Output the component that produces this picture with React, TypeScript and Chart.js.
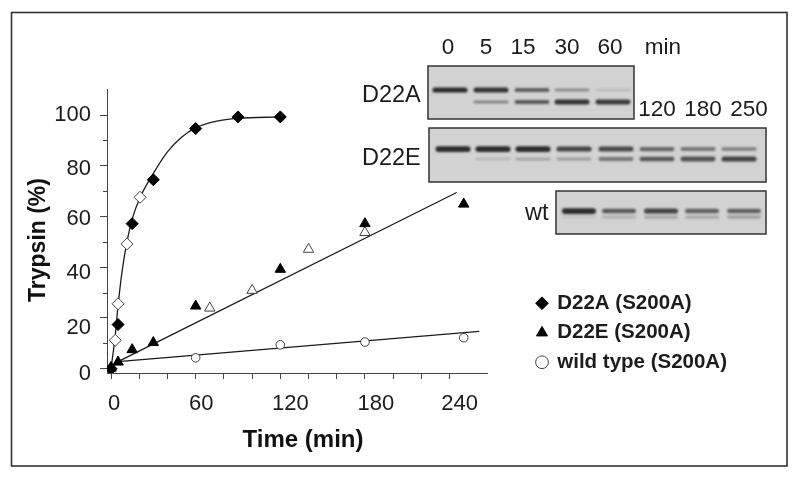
import React, { useEffect, useRef } from "react";
import { Chart, registerables } from "chart.js";

Chart.register(...registerables);

// ---- data ----
const xTickValues = [0, 20, 40, 60, 80, 100, 120, 140, 160, 180, 200, 220, 240];
const yTickValues = [0, 10, 20, 30, 40, 50, 60, 70, 80, 90, 100];

const d22aFilledX = [0, 5, 15, 30, 60, 90, 120];
const d22aFilledY = [0, 17.4, 57.2, 74.5, 94.7, 99.3, 99.3];
const d22aOpenX = [3, 5, 11.3, 20.6];
const d22aOpenY = [11.2, 25.6, 49.2, 67.6];
const d22aCurveX = [0, 3, 5, 8, 11.3, 15, 20.6, 30, 40, 50, 60, 75, 90, 120];
const d22aCurveY = [0, 13, 25, 39, 50, 59, 67.5, 77, 85.5, 91.3, 95, 97.6, 98.7, 99.3];

const d22eFilledX = [0, 5, 15, 30, 60, 120, 180, 250];
const d22eFilledY = [0.5, 2.6, 7.5, 10.3, 24.7, 39.2, 57.2, 64.9];
const d22eOpenX = [0, 70, 100, 140, 180];
const d22eOpenY = [0, 23.9, 30.9, 47.1, 53.7];
const d22eLineX = [0, 5, 245];
const d22eLineY = [0.5, 2.8, 69.5];

const wtX = [0, 60, 120, 180, 250];
const wtY = [0, 4.3, 9.4, 10.5, 12.2];
const wtLineX = [0, 5, 261];
const wtLineY = [0.5, 2.8, 14.7];

const legendLabels = ["D22A (S200A)", "D22E (S200A)", "wild type (S200A)"];

// gel annotations
const d22aLaneLabels = ["0", "5", "15", "30", "60", "min"];
const d22eLaneLabels = ["120", "180", "250"];
const gelNames = ["D22A", "D22E", "wt"];
// band darkness per lane (upper band, lower band)
const d22aUpper = [1, 0.95, 0.65, 0.35, 0.08];
const d22aLower = [0, 0.4, 0.7, 0.95, 0.9];
const d22eUpper = [1, 1, 1, 0.85, 0.8, 0.6, 0.5, 0.45];
const d22eLower = [0, 0.08, 0.2, 0.25, 0.5, 0.7, 0.75, 0.85];
const wtUpper = [1, 0.7, 0.85, 0.65, 0.65];
const wtLower = [0.03, 0.12, 0.2, 0.2, 0.25];

// ---- layout ----
const INK = "#1c1c1c";
const FONT = "'Liberation Sans', Arial, sans-serif";
const AREA = { left: 107, right: 487, top: 89, bottom: 373 };
const xLabelShift: Record<string, number> = { "0": 3, "60": 5.5, "120": 10, "180": 11, "240": 10 };
const yLabelShift: Record<string, number> = { "100": 0, "80": 2.7, "60": 2.3, "40": 6, "20": 10, "0": 5 };

const toPoints = (xs: number[], ys: number[]) => xs.map((x, i) => ({ x, y: ys[i] }));

function drawGel(
  ctx: CanvasRenderingContext2D,
  box: { x: number; y: number; w: number; h: number },
  lanes: number[],
  laneW: number,
  upperY: number,
  lowerY: number,
  upper: number[],
  lower: number[],
  thick: number
) {
  ctx.save();
  ctx.fillStyle = "#d2d2d2";
  ctx.fillRect(box.x, box.y, box.w, box.h);
  ctx.beginPath();
  ctx.rect(box.x, box.y, box.w, box.h);
  ctx.clip();
  ctx.filter = "blur(1px)";
  lanes.forEach((cx, i) => {
    [
      [upperY, upper[i]],
      [lowerY, lower[i]],
    ].forEach(([y, dark]) => {
      if (dark <= 0) return;
      const h = thick * (0.4 + dark * 0.75);
      ctx.fillStyle = `rgba(35,35,35,${Math.min(1, 0.1 + dark * 0.85)})`;
      ctx.beginPath();
      ctx.roundRect(cx - laneW / 2, y - h / 2, laneW, h, h / 2);
      ctx.fill();
    });
  });
  ctx.restore();
  ctx.strokeStyle = "#333333";
  ctx.lineWidth = 1.5;
  ctx.strokeRect(box.x, box.y, box.w, box.h);
}

const figurePlugin = {
  id: "figure",
  afterLayout(chart: any) {
    // axis titles sit a little off the centre of the axis
    const shiftTitle = (scale: any, side: "bottom" | "right", by: number) => {
      const orig = scale.drawTitle;
      if (scale.__wrapped) return;
      scale.__wrapped = true;
      scale.drawTitle = function () {
        this[side] += by;
        orig.call(this);
        this[side] -= by;
      };
    };
    shiftTitle(chart.scales.y, "bottom", 18);
    shiftTitle(chart.scales.x, "right", 12);
    const lg = chart.legend;
    lg.left = 528;
    lg.top = 284;
    lg.right = 800;
    lg.bottom = 480;
    lg.width = 272;
    lg.height = 196;
  },
  beforeDraw(chart: any) {
    const ctx: CanvasRenderingContext2D = chart.ctx;
    ctx.save();
    ctx.fillStyle = "#ffffff";
    ctx.fillRect(0, 0, 800, 480);
    ctx.strokeStyle = "#333333";
    ctx.lineWidth = 1.6;
    ctx.strokeRect(11.5, 12.5, 775.5, 453.5);
    ctx.restore();
    const nudge = (scale: any, shift: Record<string, number>, axis: number) => {
      scale.getLabelItems(chart.chartArea).forEach((it: any) => {
        const d = shift[String(it.label)];
        if (d && !it.__moved) {
          it.options.translation[axis] += d;
          it.__moved = true;
        }
      });
    };
    nudge(chart.scales.x, xLabelShift, 0);
    nudge(chart.scales.y, yLabelShift, 1);
  },
  afterDraw(chart: any) {
    const ctx: CanvasRenderingContext2D = chart.ctx;
    // minor ticks on the y axis
    const y = chart.scales.y;
    ctx.save();
    ctx.strokeStyle = "#444444";
    ctx.lineWidth = 1;
    yTickValues
      .filter((v) => v % 20 !== 0)
      .forEach((v) => {
        const py = Math.round(y.getPixelForValue(v)) + 0.5;
        ctx.beginPath();
        ctx.moveTo(AREA.left - 4, py);
        ctx.lineTo(AREA.left, py);
        ctx.stroke();
      });

    drawGel(ctx, { x: 428, y: 66, w: 206, h: 53 }, [450, 491, 532, 572, 613], 35, 90, 102, d22aUpper, d22aLower, 4.5);
    drawGel(ctx, { x: 429, y: 128, w: 337, h: 54 }, [453, 493, 533, 574, 616, 657, 698, 739], 35, 149, 159, d22eUpper, d22eLower, 5);
    drawGel(ctx, { x: 556, y: 191, w: 210, h: 43 }, [579, 619, 661, 702, 744], 34, 211, 217, wtUpper, wtLower, 5);

    ctx.fillStyle = INK;
    ctx.textBaseline = "middle";
    ctx.textAlign = "center";
    ctx.font = `22.5px ${FONT}`;
    [448, 486, 523, 567, 610, 663].forEach((px, i) => ctx.fillText(d22aLaneLabels[i], px, 48));
    [657, 703, 749].forEach((px, i) => ctx.fillText(d22eLaneLabels[i], px, 110));
    ctx.font = `23.5px ${FONT}`;
    ctx.textAlign = "left";
    ctx.fillText(gelNames[0], 362, 96);
    ctx.fillText(gelNames[1], 362, 159);
    ctx.fillText(gelNames[2], 525, 214);
    ctx.restore();
  },
};

export default function App() {
  const ref = useRef<HTMLCanvasElement>(null);

  useEffect(() => {
    document.body.style.margin = "0";
    const line = (xs: number[], ys: number[], extra = {}) => ({
      type: "line" as const,
      data: toPoints(xs, ys),
      borderColor: INK,
      borderWidth: 1.3,
      pointRadius: 0,
      fill: false,
      order: 5,
      ...extra,
    });
    const marks = (
      label: string,
      xs: number[],
      ys: number[],
      pointStyle: string,
      radius: number,
      filled: boolean
    ) => ({
      type: "line" as const,
      label,
      data: toPoints(xs, ys),
      showLine: false,
      pointStyle,
      pointRadius: radius,
      pointBorderWidth: 1,
      pointBorderColor: filled ? "#000000" : "#444444",
      pointBackgroundColor: filled ? "#000000" : "#ffffff",
      borderColor: filled ? "#000000" : "#444444",
      backgroundColor: filled ? "#000000" : "#ffffff",
      order: filled ? 1 : 2,
    });

    const chart = new Chart(ref.current as HTMLCanvasElement, {
      type: "line",
      data: {
        datasets: [
          line(d22aCurveX, d22aCurveY, { cubicInterpolationMode: "monotone" }),
          line(d22eLineX, d22eLineY),
          line(wtLineX, wtLineY),
          marks(legendLabels[0], d22aFilledX, d22aFilledY, "rectRot", 6, true),
          marks("", d22aOpenX, d22aOpenY, "rectRot", 6, false),
          marks(legendLabels[1], d22eFilledX, d22eFilledY, "triangle", 6, true),
          marks("", d22eOpenX, d22eOpenY, "triangle", 6, false),
          marks(legendLabels[2], wtX, wtY, "circle", 4.3, false),
        ],
      },
      options: {
        responsive: false,
        animation: false,
        layout: { padding: { left: 0, top: AREA.top, right: 800 - AREA.right, bottom: 0 } },
        plugins: {
          tooltip: { enabled: false },
          legend: {
            display: true,
            position: "chartArea",
            align: "start",
            labels: {
              usePointStyle: true,
              boxWidth: 10,
              boxHeight: 9,
              padding: 9,
              color: INK,
              font: { family: FONT, size: 20.5, weight: "bold" },
              filter: (item: any) => legendLabels.includes(item.text),
            },
          },
        },
        scales: {
          x: {
            type: "linear",
            min: -2.84,
            max: 266.5,
            afterBuildTicks: (s: any) => {
              s.ticks = xTickValues.map((value) => ({ value }));
            },
            afterFit: (s: any) => {
              s.height = 480 - AREA.bottom;
            },
            grid: { drawOnChartArea: false, tickLength: 6, color: "#444444" },
            border: { color: "#444444", width: 1 },
            ticks: {
              autoSkip: false,
              maxRotation: 0,
              padding: 12,
              color: INK,
              font: { family: FONT, size: 22 },
              callback: (v: any) => (Number(v) % 60 === 0 ? String(v) : ""),
            },
            title: {
              display: true,
              text: "Time (min)",
              color: "#111111",
              font: { family: FONT, size: 24, weight: "bold", lineHeight: 1.2 },
              padding: { top: 0, bottom: 25 },
            },
          },
          y: {
            type: "linear",
            min: -1.7,
            max: 110.3,
            afterBuildTicks: (s: any) => {
              s.ticks = yTickValues.map((value) => ({ value }));
            },
            afterFit: (s: any) => {
              s.width = AREA.left;
            },
            grid: {
              drawOnChartArea: false,
              tickLength: 7,
              tickColor: (c: any) => (c.tick && c.tick.value % 20 === 0 ? "#444444" : "rgba(0,0,0,0)"),
              color: "#444444",
            },
            border: { color: "#444444", width: 1 },
            ticks: {
              autoSkip: false,
              padding: 9,
              color: INK,
              font: { family: FONT, size: 22 },
              callback: (v: any) => (Number(v) % 20 === 0 ? String(v) : ""),
            },
            title: {
              display: true,
              text: "Trypsin (%)",
              color: "#111111",
              font: { family: FONT, size: 23, weight: "bold", lineHeight: 1.2 },
              padding: { top: 25, bottom: 0 },
            },
          },
        },
      },
      plugins: [figurePlugin],
    } as any);
    return () => chart.destroy();
  }, []);

  return <canvas ref={ref} width={800} height={480} style={{ display: "block" }} />;
}
